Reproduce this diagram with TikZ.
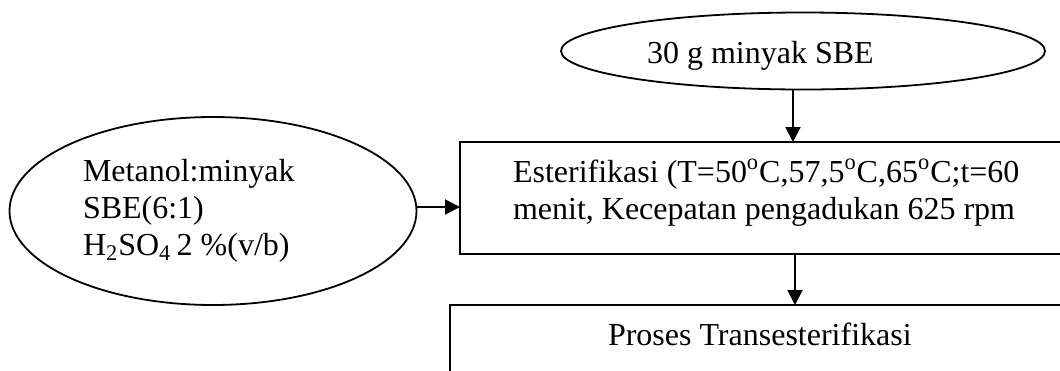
\documentclass[tikz,border=0pt]{standalone}
\usepackage{fontspec}
\setmainfont{Liberation Serif}
\usetikzlibrary{arrows.meta,shapes.geometric}
\tikzset{
  oval/.style={draw, ellipse, line width=0.9pt, inner sep=0pt, outer sep=0pt},
  procbox/.style={draw, rectangle, line width=1pt, inner sep=0pt, outer sep=0pt},
  txt/.style={inner sep=0pt, outer sep=0pt, anchor=base west, align=left,
    font=\fontsize{16pt}{18.5pt}\selectfont},
  arr/.style={line width=1pt, -{Triangle[length=7.5pt,width=7.5pt]}}
}
\begin{document}
\begin{tikzpicture}[x=0.5pt,y=-0.5pt]
\useasboundingbox (0,0) rectangle (1060,370);
\clip (0,0) rectangle (1060,370);
% shapes
\node[oval, minimum width=242pt, minimum height=38.5pt] (e1) at (803,51) {};
\node[oval, minimum width=203.5pt, minimum height=94pt] (e2) at (213,211) {};
\node[procbox, minimum width=310pt, minimum height=56pt] (b1) at (770,198) {};
\node[procbox, minimum width=315pt, minimum height=57.5pt] (b2) at (765,362.5) {};
% texts (multi-line nodes: base = last line)
\node[txt] (t1) at (647,63) {30 g minyak SBE};
\node[txt] (t2) at (83,255) {Metanol:minyak\\SBE(6:1)\\H\textsubscript{2}SO\textsubscript{4}\,2 \%(v/b)};
\node[txt] (t3) at (513,219) {Esterifikasi (T=50\textsuperscript{o}C,57,5\textsuperscript{o}C,65\textsuperscript{o}C;t=60\\menit, Kecepatan pengadukan 625 rpm};
\node[txt] (t4) at (608,345) {Proses Transesterifikasi};
% connectors
\draw[arr] ([xshift=-5pt]e1.south) -- ([xshift=-5pt]e1.south |- b1.north);
\draw[arr] ([yshift=2pt]e2.east) -- ([yshift=2pt]e2.east -| b1.west);
\draw[arr] ([xshift=12.5pt]b1.south) -- ([xshift=12.5pt]b1.south |- b2.north);
\end{tikzpicture}
\end{document}
